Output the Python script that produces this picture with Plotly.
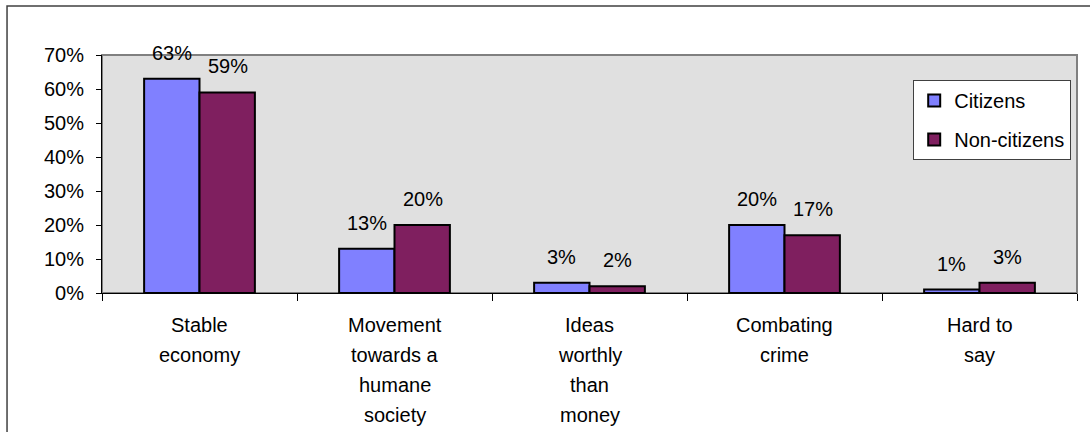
import plotly.graph_objects as go

categories = ["Stable economy", "Movement towards a humane society",
              "Ideas worthly than money", "Combating crime", "Hard to say"]
category_lines = [["Stable", "economy"], ["Movement", "towards a", "humane", "society"],
                  ["Ideas", "worthly", "than", "money"], ["Combating", "crime"], ["Hard to", "say"]]
citizens = [63, 13, 3, 20, 1]
non_citizens = [59, 20, 2, 17, 3]
series_names = ["Citizens", "Non-citizens"]
y_ticks = [0, 10, 20, 30, 40, 50, 60, 70]
y_tick_labels = [f"{v}%" for v in y_ticks]

FONT = "Liberation Sans, Arial, sans-serif"
FS = 20

fig = go.Figure()
colors = ["#8080ff", "#7f1f5f"]
for i, (name, vals) in enumerate(zip(series_names, [citizens, non_citizens])):
    fig.add_trace(go.Bar(
        x=categories, y=vals, name=name, legendgroup=name,
        marker=dict(color=colors[i], line=dict(color="#000000", width=2)),
        hoverinfo="skip",
    ))

annotations = []
for i, vals in enumerate([citizens, non_citizens]):
    shift = -28 if i == 0 else 28
    for c, v in zip(categories, vals):
        annotations.append(dict(
            x=c, y=v, xref="x", yref="y", text=f"{v}%", showarrow=False,
            xshift=shift, yshift=13, yanchor="bottom",
            font=dict(family=FONT, size=FS, color="#000000"),
        ))
# category labels, one line each, with the wider line spacing of the original
for c, lines in zip(categories, category_lines):
    for k, line in enumerate(lines):
        annotations.append(dict(
            x=c, y=0, xref="x", yref="paper", text=line, showarrow=False,
            yanchor="middle", yshift=-32 - 30 * k,
            font=dict(family=FONT, size=FS, color="#000000"),
        ))

fig.update_layout(
    width=1090, height=432,
    margin=dict(l=102, r=13, t=55, b=139),
    paper_bgcolor="#ffffff",
    plot_bgcolor="#e0e0e0",
    barmode="group", bargap=0.432, bargroupgap=0,
    font=dict(family=FONT, size=FS, color="#000000"),
    annotations=annotations,
    showlegend=True,
    legend=dict(
        x=0.832, y=0.895, xanchor="left", yanchor="top",
        bgcolor="#ffffff", bordercolor="#404040", borderwidth=1,
        font=dict(family=FONT, size=FS, color="#000000"),
        traceorder="grouped", tracegroupgap=10,
    ),
    shapes=[
        dict(type="rect", xref="paper", yref="paper", x0=0, x1=1, y0=0, y1=1,
             line=dict(color="#808080", width=2), fillcolor="rgba(0,0,0,0)", layer="below"),
        dict(type="rect", xref="paper", yref="paper", x0=-0.0974, x1=1.2, y0=-1, y1=1.206,
             line=dict(color="#404040", width=1.5), fillcolor="rgba(0,0,0,0)", layer="above"),
    ],
)

fig.update_xaxes(
    type="category", tickson="boundaries",
    showline=True, linecolor="#000000", linewidth=1,
    ticks="outside", ticklen=7, tickcolor="#000000",
    showgrid=False, zeroline=False, showticklabels=False,
)
fig.update_yaxes(
    range=[0, 70], tickvals=y_ticks, ticktext=y_tick_labels,
    showline=True, linecolor="#000000", linewidth=1,
    ticks="outside", ticklen=5, tickcolor="#000000",
    showgrid=False, zeroline=False, ticklabelstandoff=8,
)

fig.write_html("out.html", config={"displayModeBar": False},
               post_script="document.body.style.margin='0';document.body.style.overflow='hidden';")
